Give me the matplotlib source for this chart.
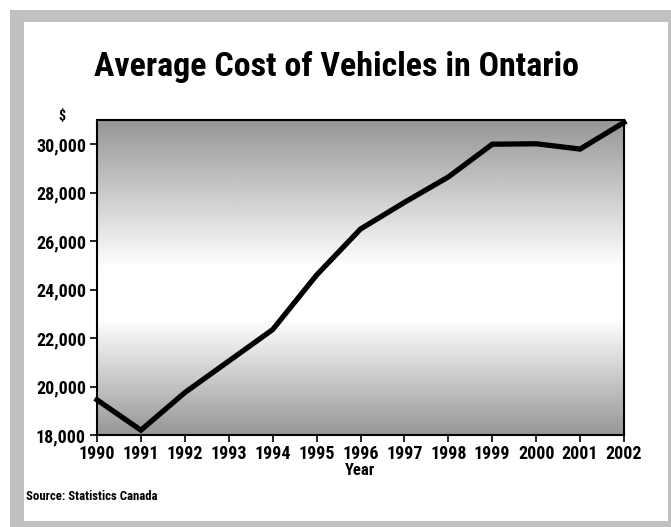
import numpy as np
import matplotlib
matplotlib.use("Agg")
import matplotlib.pyplot as plt
from matplotlib.patches import Rectangle

plt.rcParams['font.family'] = ['Roboto Condensed', 'DejaVu Sans']
plt.rcParams['font.weight'] = 'bold'

years = [1990, 1991, 1992, 1993, 1994, 1995, 1996, 1997, 1998, 1999, 2000, 2001, 2002]
avg_cost = [19450, 18200, 19750, 21050, 22350, 24600, 26500, 27600, 28650,
            30000, 30020, 29800, 30900]
y_ticks = [18000, 20000, 22000, 24000, 26000, 28000, 30000]

W, H = 671, 527
fig = plt.figure(figsize=(W / 100, H / 100), dpi=100)
fig.patch.set_facecolor('white')

# grey frame around the page
frame_col = '#c0c0c0'
fig.add_artist(Rectangle((10 / W, 1 - 22 / H), 1 - 10 / W, 12 / H, transform=fig.transFigure,
                         facecolor=frame_col, edgecolor='none'))
fig.add_artist(Rectangle((10 / W, 0), 14 / W, 1 - 10 / H, transform=fig.transFigure,
                         facecolor=frame_col, edgecolor='none'))
fig.add_artist(Rectangle((10 / W, 0), 1 - 10 / W, 6 / H, transform=fig.transFigure,
                         facecolor=frame_col, edgecolor='none'))
fig.add_artist(Rectangle((1 - 3 / W, 0), 3 / W, 1 - 10 / H, transform=fig.transFigure,
                         facecolor=frame_col, edgecolor='none'))

left, right, top, bottom = 97, 624, 120, 435
ax = fig.add_axes([left / W, 1 - bottom / H, (right - left) / W, (bottom - top) / H])

# vertical gradient: grey at top and bottom, white in the middle
t = np.linspace(0, 1, 256)
centre = 0.44
shade = np.where(t < centre, t / centre, (1 - t) / (1 - centre))
shade = np.clip(shade * 1.2, 0, 1)
top_g, bot_g = 0.59, 0.59
vals = np.where(t < centre, top_g + (1 - top_g) * shade, bot_g + (1 - bot_g) * shade)
img = np.repeat(vals[:, None], 2, axis=1)
ax.imshow(img, extent=[1990, 2002, 31000, 18000], cmap='gray', vmin=0, vmax=1,
          aspect='auto', zorder=0, interpolation='bilinear')
ax.set_xlim(1990, 2002)
ax.set_ylim(18000, 31000)

ax.plot(years, avg_cost, color='black', linewidth=3.8, solid_joinstyle='miter', zorder=3,
        clip_on=False)

ax.set_xticks(years)
ax.set_xticklabels([str(y) for y in years])
ax.set_yticks(y_ticks)
ax.set_yticklabels([f"{v:,}" for v in y_ticks])
ax.tick_params(axis='both', direction='out', length=5, width=1.2, labelsize=13, pad=3)
ax.tick_params(axis='x', pad=2)
for s in ax.spines.values():
    s.set_linewidth(1.5)
    s.set_color('black')

ax.set_xlabel('Year', fontsize=12, fontweight='bold', labelpad=0.5)

fig.text(336 / W, 1 - 67 / H, 'Average Cost of Vehicles in Ontario', ha='center', va='center',
         fontsize=24.5, fontweight='bold')
fig.text(62 / W, 1 - 116 / H, '$', ha='center', va='center', fontsize=10, fontweight='bold')
fig.text(26 / W, 1 - 497 / H, 'Source: Statistics Canada', ha='left', va='center',
         fontsize=9.2, fontweight='bold')

fig.savefig('out.png', dpi=100)
